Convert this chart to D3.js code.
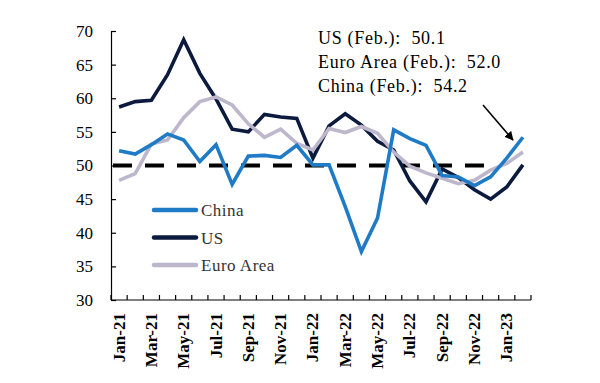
<!DOCTYPE html>
<html><head><meta charset="utf-8">
<script src="https://cdn.jsdelivr.net/npm/d3@7"></script>
<style>body{margin:0;background:#fff;} svg{display:block;}</style>
</head><body>
<svg id="c" width="600" height="383"></svg>
<script>
const months = ["Jan-21","Feb-21","Mar-21","Apr-21","May-21","Jun-21","Jul-21","Aug-21","Sep-21","Oct-21","Nov-21","Dec-21",
"Jan-22","Feb-22","Mar-22","Apr-22","May-22","Jun-22","Jul-22","Aug-22","Sep-22","Oct-22","Nov-22","Dec-22","Jan-23","Feb-23"];
const china = [52.2,51.7,53.1,54.7,53.8,50.6,53.1,47.2,51.4,51.5,51.2,53.0,50.1,50.1,43.9,37.2,42.2,55.3,54.0,53.0,48.5,48.3,47.0,48.3,51.1,54.2];
const us = [58.7,59.5,59.7,63.5,68.7,63.7,59.9,55.4,55.0,57.6,57.2,57.0,51.1,55.9,57.7,56.0,53.6,52.3,47.7,44.6,49.5,48.2,46.4,45.0,46.8,50.1];
const euro = [47.8,48.8,53.2,53.8,57.1,59.5,60.2,59.0,56.2,54.2,55.4,53.3,52.3,55.5,54.9,55.8,54.8,52.0,49.9,48.9,48.1,47.3,47.8,49.3,50.3,52.0];
const yTicks = [30,35,40,45,50,55,60,65,70];
const notes = ["US (Feb.):  50.1","Euro Area (Feb.):  52.0","China (Feb.):  54.2"];
const seriesNames = ["China","US","Euro Area"];
const colors = ["#1f7bc6","#0b1a3d","#bcb7cb"];

const svg = d3.select("#c");
const L=111, R=531, T=31, B=300;
const x = d3.scaleBand().domain(months).range([L,R]);
const y = d3.scaleLinear().domain([30,70]).range([B,T]);
const serif = "'Liberation Serif','Times New Roman',serif";

// 50 line
svg.append("line").attr("x1",L+2).attr("x2",x("Dec-22")+x.bandwidth()/2+4)
  .attr("y1",y(50)).attr("y2",y(50)).attr("stroke","#000").attr("stroke-width",4)
  .attr("stroke-dasharray","19,13");

// series
const data=[china,us,euro];
const line = d3.line().x((d,i)=>x(months[i])+x.bandwidth()/2).y(d=>y(d));
[1,2,0].forEach(k=>{
  svg.append("path").attr("d",line(data[k])).attr("fill","none")
    .attr("stroke",colors[k]).attr("stroke-width",3.6).attr("stroke-linejoin","miter");
});
// axes
const yAxis = d3.axisLeft(y).tickValues(yTicks).tickSize(-5).tickPadding(18);
const gy = svg.append("g").attr("transform",`translate(${L},0)`).call(yAxis);
gy.selectAll("text").attr("font-family",serif).attr("font-size",17).attr("fill","#000");
gy.select(".domain").attr("stroke-width",1.2);
gy.selectAll(".tick line").attr("stroke-width",1.2);

const gx = svg.append("g").attr("transform",`translate(0,${B})`);
gx.append("line").attr("x1",L).attr("x2",R).attr("stroke","#000").attr("stroke-width",1.2);
const bounds = months.map(m=>x(m)).concat([R]);
gx.selectAll("line.t").data(bounds).enter().append("line").attr("class","t")
  .attr("x1",d=>d).attr("x2",d=>d).attr("y1",0).attr("y2",-5).attr("stroke","#000").attr("stroke-width",1.2);
gx.selectAll("text").data(months.filter((m,i)=>i%2===0)).enter().append("text")
  .attr("transform",d=>`translate(${x(d)+x.bandwidth()/2+5.5},13) rotate(-90)`)
  .attr("text-anchor","end").attr("font-family",serif).attr("font-weight","bold")
  .attr("font-size",17).text(d=>d);

// legend
seriesNames.forEach((n,i)=>{
  const yy = 210 + i*27.5;
  svg.append("line").attr("x1",154).attr("x2",196).attr("y1",yy).attr("y2",yy)
    .attr("stroke",colors[i]).attr("stroke-width",4.5).attr("stroke-linecap","round");
  svg.append("text").attr("x",201).attr("y",yy+6).attr("font-family",serif)
    .attr("font-size",17).attr("letter-spacing",0.5).attr("fill","#333").text(n);
});

// notes
notes.forEach((t,i)=>{
  svg.append("text").attr("x",318).attr("y",44+i*23.8).attr("font-family",serif)
    .attr("font-size",18).attr("letter-spacing",0.7).attr("fill","#000").style("white-space","pre").text(t);
});
// arrow
svg.append("defs").append("marker").attr("id","ah").attr("viewBox","0 0 10 10").attr("refX",9).attr("refY",5)
  .attr("markerWidth",6).attr("markerHeight",6).attr("orient","auto")
  .append("path").attr("d","M0,0L10,5L0,10z").attr("fill","#000");
svg.append("line").attr("x1",483).attr("y1",105).attr("x2",513).attr("y2",140)
  .attr("stroke","#000").attr("stroke-width",1.5).attr("marker-end","url(#ah)");
</script>
</body></html>
